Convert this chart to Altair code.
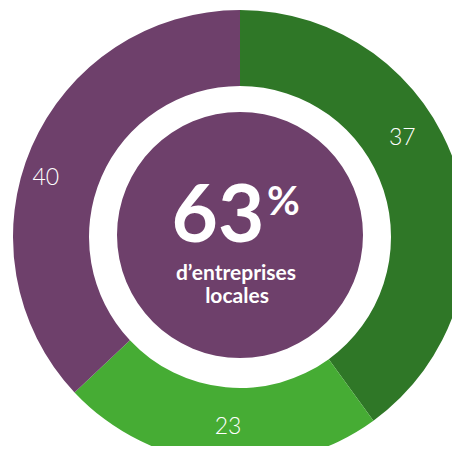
import altair as alt
import pandas as pd
import math

# Ring slices (arc sizes) and their printed labels
categories = ["A", "B", "C"]
shares = [40, 23, 37]
labels = ["37", "23", "40"]
colors = ["#2F7727", "#46AC34", "#6E406B"]

big_value = "63"
big_unit = "%"
caption = ["d\u2019entreprises", "locales"]

df = pd.DataFrame({"cat": categories, "share": shares, "label": labels,
                   "order": list(range(len(categories)))})

CX, CY = 232, 229

base = alt.Chart(df)
ring = base.mark_arc(outerRadius=227, innerRadius=151, stroke=None).encode(
    theta=alt.Theta("share:Q", stack=True),
    color=alt.Color("cat:N", scale=alt.Scale(domain=categories, range=colors), legend=None),
    order=alt.Order("order:Q"),
    x=alt.value(CX), y=alt.value(CY),
)

# labels at the middle of each slice, with small nudges (degrees, px) to match the picture
nudges = [(-13.3, 0), (-1.8, 0), (-6.5, 13)]
label_base = base.transform_window(
    cum="sum(share)", sort=[alt.SortField("order")], frame=[None, 0]
).transform_calculate(mid="datum.cum - datum.share / 2")
label_layers = []
for i, (dt, dr) in enumerate(nudges):
    label_layers.append(
        label_base.transform_filter(alt.datum.order == i).mark_text(
            radius=190, radiusOffset=dr, thetaOffset=math.radians(dt),
            font="Lato", fontWeight=300, fontSize=23, color="white"
        ).encode(
            theta=alt.Theta("mid:Q", stack=None),
            text="label:N",
            x=alt.value(CX), y=alt.value(CY),
        )
    )

center_df = pd.DataFrame({"v": [1]})
disc = alt.Chart(center_df).mark_circle(color="#6E406B", opacity=1).encode(
    x=alt.value(CX), y=alt.value(CY - 2), size=alt.value((2 * 123) ** 2)
)

t63 = alt.Chart(pd.DataFrame({"t": [big_value]})).mark_text(
    font="Lato", fontWeight="bold", fontSize=80, color="white", align="center", baseline="alphabetic"
).encode(text="t:N", x=alt.value(210), y=alt.value(234))
tpct = alt.Chart(pd.DataFrame({"t": [big_unit]})).mark_text(
    font="Lato", fontWeight="bold", fontSize=40, color="white", align="left", baseline="alphabetic"
).encode(text="t:N", x=alt.value(259), y=alt.value(207))
cap1 = alt.Chart(pd.DataFrame({"t": [caption[0]]})).mark_text(
    font="Lato", fontWeight="bold", fontSize=21, color="white", align="center", baseline="alphabetic"
).encode(text="t:N", x=alt.value(228), y=alt.value(272))
cap2 = alt.Chart(pd.DataFrame({"t": [caption[1]]})).mark_text(
    font="Lato", fontWeight="bold", fontSize=21, color="white", align="center", baseline="alphabetic"
).encode(text="t:N", x=alt.value(229), y=alt.value(295))

chart = alt.layer(ring, *label_layers, disc, t63, tpct, cap1, cap2).properties(
    width=444, height=438, padding=0, autosize=alt.AutoSizeParams(type="none")
).configure_view(stroke=None)

chart.save("out.html", embed_options={"renderer": "svg", "actions": False})
